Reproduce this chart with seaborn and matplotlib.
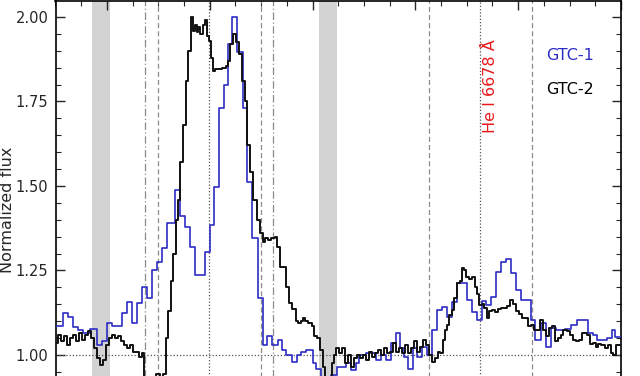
import numpy as np
import pandas as pd
import matplotlib
matplotlib.use("Agg")
import matplotlib.pyplot as plt
from matplotlib.ticker import MultipleLocator, FormatStrFormatter
import seaborn as sns

# ---- data (wavelength in Angstrom, normalized flux), step bins (left edges) ----
wl_gtc2 = [6510.0, 6510.5, 6511.1, 6511.6, 6512.2, 6512.8, 6513.4, 6514.0, 6514.6, 6515.1,
           6515.7, 6516.3, 6516.9, 6517.5, 6518.1, 6518.6, 6519.2, 6519.8, 6520.4, 6521.0,
           6521.5, 6522.1, 6522.7, 6523.3, 6523.9, 6524.5, 6525.0, 6525.6, 6526.2, 6526.8,
           6527.3, 6529.5, 6530.3, 6530.9, 6531.4, 6531.9, 6532.4, 6532.9, 6533.4, 6533.9,
           6534.3, 6534.8, 6535.3, 6535.8, 6536.3, 6536.8, 6537.1, 6537.5, 6537.8, 6538.2,
           6538.6, 6539.0, 6539.4, 6539.8, 6540.2, 6540.6, 6541.1, 6541.7, 6542.3, 6543.1,
           6543.5, 6544.0, 6544.6, 6545.1, 6545.6, 6546.2, 6546.9, 6547.3, 6547.9, 6548.5,
           6549.1, 6549.7, 6550.3, 6550.8, 6551.4, 6552.0, 6552.6, 6553.0, 6553.6, 6554.3,
           6554.9, 6555.5, 6556.1, 6556.7, 6557.2, 6557.8, 6558.2, 6558.6, 6559.2, 6559.8,
           6560.3, 6560.9, 6561.5, 6562.0, 6562.5, 6563.3, 6563.8, 6564.2, 6564.6, 6565.2,
           6565.8, 6566.4, 6566.9, 6567.5, 6568.1, 6568.7, 6569.3, 6569.8, 6570.4, 6571.0,
           6571.6, 6572.2, 6572.8, 6573.3, 6573.9, 6574.5, 6575.1, 6575.7, 6576.3, 6576.8,
           6577.4, 6578.0, 6578.6, 6579.2, 6579.7, 6580.3, 6580.9, 6581.5, 6582.1, 6582.7,
           6583.2, 6583.8, 6584.4, 6584.8, 6585.3, 6585.8, 6586.1, 6586.5, 6587.1, 6587.5,
           6588.1, 6588.7, 6589.1, 6589.4, 6589.8, 6590.4, 6591.0, 6591.6, 6592.0, 6592.4,
           6592.9, 6593.3, 6593.9, 6594.3, 6594.9, 6595.5, 6596.0, 6596.6, 6597.2, 6597.8,
           6598.4, 6599.0, 6599.5, 6600.1, 6600.7, 6601.3, 6601.9, 6602.4, 6603.0, 6603.6,
           6604.2, 6604.8, 6605.4, 6605.9, 6606.5, 6607.1, 6607.7, 6608.3, 6608.8, 6609.4,
           6610.0, 6610.6, 6611.2, 6611.8, 6612.5, 6613.3, 6613.9, 6614.5, 6615.1, 6615.6,
           6616.2, 6616.8, 6617.4, 6618.0, 6618.5, 6619.1]
flux_gtc2 = [1.035, 1.06, 1.04, 1.055, 1.03, 1.05, 1.06, 1.04, 1.065, 1.045,
             1.06, 1.07, 1.05, 1.02, 0.99, 0.97, 0.985, 1.03, 1.05, 1.06,
             1.05, 1.055, 1.04, 1.03, 1.02, 1.03, 1.01, 1.01, 0.995, 1.005,
             0.80, 0.945, 0.93, 0.945, 1.05, 1.13, 1.22, 1.30, 1.40, 1.46,
             1.57, 1.68, 1.81, 1.90, 2.00, 1.96, 1.975, 1.955, 1.97, 1.95,
             1.975, 1.99, 1.945, 1.93, 1.88, 1.84, 1.845, 1.845, 1.85, 1.855,
             1.87, 1.92, 1.95, 1.925, 1.89, 1.81, 1.75, 1.62, 1.54, 1.46,
             1.40, 1.36, 1.335, 1.345, 1.34, 1.345, 1.35, 1.32, 1.26, 1.26,
             1.20, 1.155, 1.135, 1.10, 1.095, 1.10, 1.11, 1.10, 1.095, 1.085,
             1.055, 1.05, 1.015, 0.965, 0.935, 0.93, 0.975, 1.00, 1.02, 1.005,
             1.02, 0.975, 1.00, 0.965, 0.99, 1.00, 0.99, 1.00, 0.985, 1.01,
             0.995, 1.005, 1.015, 1.00, 1.02, 1.005, 1.01, 1.035, 1.01, 1.02,
             1.005, 1.03, 1.005, 1.02, 1.04, 1.01, 1.025, 1.045, 1.03, 1.00,
             0.98, 0.99, 1.01, 1.005, 1.044, 1.074, 1.09, 1.118, 1.133, 1.168,
             1.213, 1.22, 1.257, 1.25, 1.23, 1.225, 1.23, 1.20, 1.18, 1.148,
             1.152, 1.14, 1.11, 1.13, 1.132, 1.128, 1.135, 1.138, 1.14, 1.145,
             1.163, 1.15, 1.13, 1.12, 1.11, 1.11, 1.085, 1.089, 1.074, 1.074,
             1.104, 1.074, 1.055, 1.08, 1.085, 1.04, 1.05, 1.06, 1.074, 1.07,
             1.06, 1.044, 1.04, 1.045, 1.064, 1.06, 1.034, 1.035, 1.025, 1.034,
             1.03, 1.02, 1.03, 1.005, 1.00, 1.03]

wl_gtc1 = [6510.0, 6511.5, 6512.4, 6513.4, 6514.4, 6515.3, 6516.7, 6518.1, 6519.0, 6520.0,
           6521.0, 6522.9, 6523.9, 6524.8, 6525.8, 6526.8, 6527.8, 6528.7, 6529.7, 6530.7,
           6531.6, 6533.2, 6534.2, 6535.1, 6536.1, 6537.1, 6539.0, 6540.0, 6540.9, 6541.9,
           6542.7, 6543.5, 6544.4, 6545.4, 6546.4, 6547.3, 6548.3, 6549.3, 6550.3, 6551.2,
           6552.2, 6553.2, 6554.1, 6554.9, 6556.1, 6556.9, 6557.8, 6558.8, 6560.0, 6560.7,
           6561.7, 6563.6, 6564.8, 6566.6, 6567.5, 6568.5, 6569.1, 6570.4, 6572.4, 6573.3,
           6574.3, 6575.3, 6576.3, 6577.0, 6577.8, 6578.6, 6579.5, 6580.3, 6581.3, 6582.3,
           6583.2, 6584.2, 6585.2, 6586.1, 6587.1, 6588.1, 6590.0, 6591.0, 6592.0, 6592.9,
           6593.7, 6594.7, 6595.7, 6596.6, 6597.6, 6598.6, 6599.5, 6600.5, 6602.4, 6603.2,
           6604.4, 6605.4, 6606.3, 6607.3, 6609.2, 6610.2, 6611.4, 6613.5, 6614.5, 6615.3,
           6617.2, 6618.2, 6618.9]
flux_gtc1 = [1.087, 1.125, 1.113, 1.084, 1.074, 1.064, 1.076, 1.03, 1.04, 1.096,
             1.087, 1.124, 1.157, 1.095, 1.155, 1.20, 1.168, 1.25, 1.276, 1.316,
             1.39, 1.488, 1.41, 1.38, 1.32, 1.237, 1.305, 1.385, 1.498, 1.73,
             1.80, 1.92, 2.00, 1.897, 1.73, 1.512, 1.345, 1.168, 1.03, 1.055,
             1.03, 1.045, 1.015, 1.00, 0.98, 1.00, 1.01, 1.015, 0.975, 0.96,
             0.92, 0.94, 0.965, 0.975, 0.955, 0.975, 1.00, 1.005, 0.985, 1.00,
             0.985, 1.035, 1.065, 1.02, 0.995, 0.96, 1.02, 0.995, 1.025, 1.00,
             1.074, 1.133, 1.142, 1.113, 1.157, 1.213, 1.163, 1.128, 1.104, 1.16,
             1.148, 1.172, 1.246, 1.276, 1.285, 1.243, 1.192, 1.163, 1.104, 1.044,
             1.094, 1.025, 1.08, 1.074, 1.078, 1.089, 1.104, 1.064, 1.06, 1.044,
             1.05, 1.074, 1.054]

series_names = ["GTC-1", "GTC-2"]
series_colors = ["#2c2cc4", "#111111"]

wl_end = 6620.0
masked_bands = [(6517.1, 6520.6), (6561.3, 6564.8)]
dashed_lines = [6530.0, 6550.0, 6582.6, 6602.6]
dashdot_lines = [6527.4, 6552.4]
dotted_lines = [6539.9, 6592.5]
line_label = "He I 6678 Å"

# ---- figure ----
sns.set_style("ticks")
plt.rcParams["font.family"] = ["DejaVu Sans"]
fig = plt.figure(figsize=(6.4, 3.76), dpi=100)
H = 376.0
ax = fig.add_axes([55.5 / 640, 1 - 420.0 / H, (621 - 55.5) / 640, 419.5 / H])

for lo, hi in masked_bands:
    ax.axvspan(lo, hi, color="#d3d3d3", lw=0, zorder=0)
for x in dashed_lines:
    ax.axvline(x, color="#8c8c8c", ls=(0, (4, 2.5)), lw=0.9, zorder=1)
for x in dashdot_lines:
    ax.axvline(x, color="#8c8c8c", ls=(0, (6, 2, 1, 2)), lw=0.9, zorder=1)
for x in dotted_lines:
    ax.axvline(x, color="#555555", ls=(0, (1, 1.6)), lw=0.9, zorder=1)
ax.axhline(1.0, color="#555555", ls=(0, (1, 1.6)), lw=0.9, zorder=1)

frames = []
for name, wl, fl in [("GTC-1", wl_gtc1, flux_gtc1), ("GTC-2", wl_gtc2, flux_gtc2)]:
    frames.append(pd.DataFrame({"wl": list(wl) + [wl_end],
                                "flux": list(fl) + [fl[-1]],
                                "spec": name}))
df = pd.concat(frames, ignore_index=True)

sns.lineplot(data=df[df.spec == "GTC-1"], x="wl", y="flux", color=series_colors[0],
             drawstyle="steps-post", lw=1.2, estimator=None, ax=ax, zorder=3)
sns.lineplot(data=df[df.spec == "GTC-2"], x="wl", y="flux", color=series_colors[1],
             drawstyle="steps-post", lw=1.4, estimator=None, ax=ax, zorder=4)

ax.set_xlim(6510, 6620)
ax.set_ylim(0.8077, 2.0488)
ax.xaxis.set_major_locator(MultipleLocator(20))
ax.xaxis.set_minor_locator(MultipleLocator(5))
ax.yaxis.set_major_locator(MultipleLocator(0.25))
ax.yaxis.set_minor_locator(MultipleLocator(0.05))
ax.yaxis.set_major_formatter(FormatStrFormatter("%.2f"))
ax.tick_params(which="both", direction="in", top=True, right=True, bottom=True, left=True)
ax.tick_params(which="major", length=6.5, width=1.0, labelsize=10.5, pad=5)
ax.tick_params(which="minor", length=3.8, width=0.8)
ax.tick_params(axis="x", labelbottom=False)
for s in ax.spines.values():
    s.set_linewidth(1.2)
    s.set_color("black")
ax.set_xlabel("")
ax.set_ylabel("Normalized flux", fontsize=11.5)
ax.yaxis.set_label_coords(-0.071, 0.5)

ax.text(6594.6, 1.796, line_label, color="#e8191c", rotation=90, fontsize=11.5,
        ha="center", va="center")
ax.text(6605.5, 1.885, series_names[0], color=series_colors[0], fontsize=11.5,
        ha="left", va="center")
ax.text(6605.5, 1.786, series_names[1], color="black", fontsize=11.5,
        ha="left", va="center")

fig.savefig("out.png", dpi=100)
